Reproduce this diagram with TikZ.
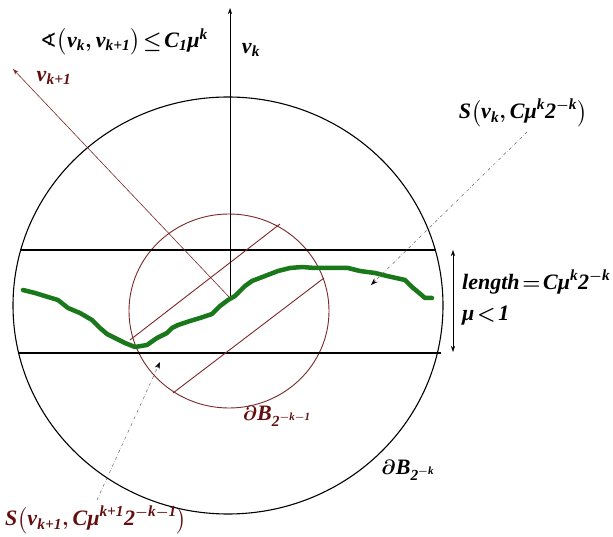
\documentclass[tikz,border=0pt]{standalone}
\usepackage{amsmath,amssymb}
\usepackage{fontspec}
\setmainfont{Liberation Serif}
\newfontfamily\djv{DejaVu Sans}
\usetikzlibrary{arrows.meta}
\newcommand\bi[1]{\textbf{\textit{#1}}}
\definecolor{brn}{RGB}{125,40,40}
\definecolor{lbl}{RGB}{100,15,15}
\definecolor{grn}{RGB}{25,120,25}
\begin{document}
\thickmuskip=2mu
\begin{tikzpicture}[x=1pt,y=-1pt,
  >={Stealth[length=6pt,width=4pt]},
  lab/.style={font=\fontsize{22}{25}\selectfont\boldmath, inner sep=0pt},
  guide/.style={dashdotted, gray!80!black, line width=0.5pt, -{Stealth[length=7pt,width=5pt,black]}},
  strip/.style={line width=1.5pt}]
\useasboundingbox (0,0) rectangle (613,537);
\fill[white] (0,0) rectangle (613,537);
% circles
\draw[line width=1.1pt] (228,305.5) ellipse [x radius=215, y radius=208.5];
\draw[brn, line width=0.9pt] (229,311) ellipse [x radius=100, y radius=97];
% strip
\coordinate (t1) at (20,250); \coordinate (t2) at (436,250);
\coordinate (b1) at (18,353); \coordinate (b2) at (441,353);
\draw[strip] (t1) -- (t2);
\draw[strip] (b1) -- (b2);
% slab lines
\coordinate (s1a) at (130,340); \coordinate (s1b) at (280,224);
\coordinate (s2a) at (173,393); \coordinate (s2b) at (324,278);
\draw[brn, line width=0.9pt] (s1a) -- (s1b);
\draw[brn, line width=0.9pt] (s2a) -- (s2b);
% normals
\coordinate (o) at (230,298);
\coordinate (vk) at (230,8);
\coordinate (vk1) at (13,69);
\draw[->, line width=0.6pt] (o) -- (vk);
\draw[->, brn, line width=0.6pt] (o) -- (vk1);
% green curve
\draw[grn, line width=4.5pt, line join=round, line cap=round] plot coordinates {
(23,290) (35,293) (48,297) (58,300) (68,308) (80,313) (92,320) (100,328)
(107,334) (117,339) (125,343) (135,347) (147,345) (157,338) (167,333)
(172,328) (178,325) (190,321) (200,318) (212,314) (220,306) (228,300)
(235,296) (245,286) (252,281) (265,276) (278,271) (290,268) (302,267)
(315,268) (335,268) (348,268) (360,271) (375,273) (387,276) (405,280)
(412,287) (418,292) (425,298) (432,298)};
% length arrow
\coordinate (la) at (453,250); \coordinate (lb) at (453,352);
\draw[<->, line width=0.6pt] (la) -- (lb);
% labels
\node[lab] (lvk) at (251,50) {$\bi{ν}_{\bi{k}}$};
\node[lab, text=lbl] (lvk1) at (54,78) {$\bi{ν}_{\bi{k+1}}$};
\node[lab] (ang) at (124,42) {{\djv\fontsize{20}{24}\selectfont ∢}$\bigl(\bi{ν}_{\bi{k}},\bi{ν}_{\bi{k+1}}\bigr)\le\bi{C}_{\bi{1}}\bi{μ}^{\bi{k}}$};
\node[lab] (sk) at (523,113) {$\bi{S}\bigl(\bi{ν}_{\bi{k}},\bi{Cμ}^{\bi{k}}\bi{2}^{-\bi{k}}\bigr)$};
\node[lab, anchor=west] (len) at (462,282) {$\bi{length}=\bi{Cμ}^{\bi{k}}\bi{2}^{-\bi{k}}$};
\node[lab, anchor=west] (mu) at (462,316) {$\bi{μ}<\bi{1}$};
\node[lab, text=lbl] (bsmall) at (277,416) {$\partial\bi{B}_{\bi{2}^{-\bi{k}-\bi{1}}}$};
\node[lab] (bbig) at (408,470) {$\partial\bi{B}_{\bi{2}^{-\bi{k}}}$};
\node[lab, text=lbl] (sk1) at (96,520) {$\bi{S}\bigl(\bi{ν}_{\bi{k+1}},\bi{Cμ}^{\bi{k+1}}\bi{2}^{-\bi{k}-\bi{1}}\bigr)$};
% guides
\coordinate (g1s) at (527,132); \coordinate (g1e) at (371,285);
\coordinate (g2s) at (97,500); \coordinate (g2e) at (160,362);
\draw[guide] (g1s) -- (g1e);
\draw[guide] (g2s) -- (g2e);
\end{tikzpicture}
\end{document}
